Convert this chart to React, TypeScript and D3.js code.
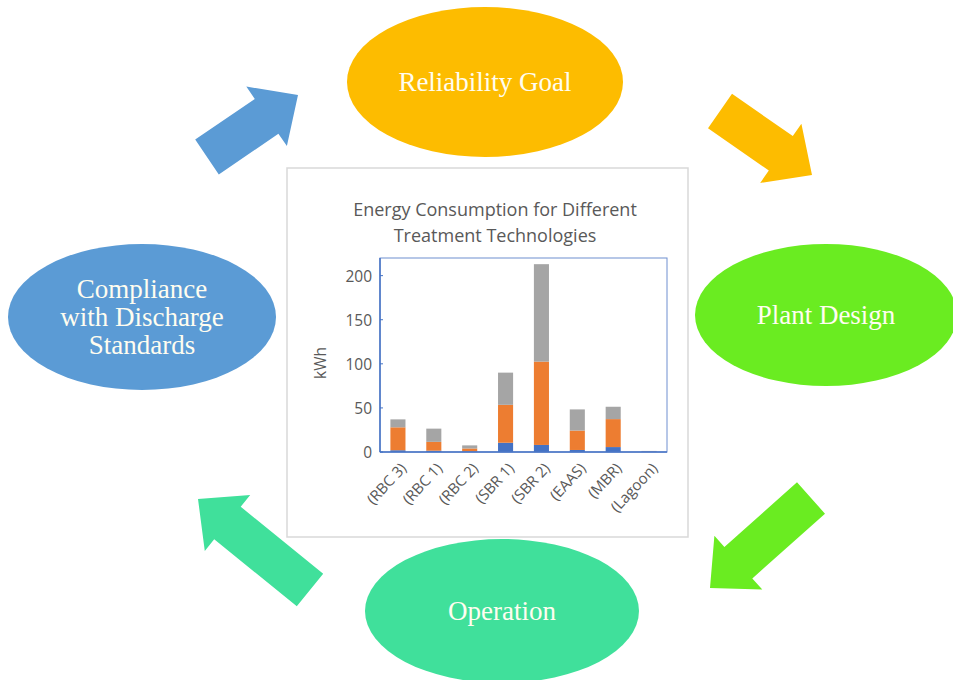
import React from "react";
import * as d3 from "d3";

const categories = ["(RBC 3)", "(RBC 1)", "(RBC 2)", "(SBR 1)", "(SBR 2)", "(EAAS)", "(MBR)", "(Lagoon)"];
const seriesA = [2, 1.5, 0.5, 10.5, 8, 2.3, 5.6, 0.3];
const seriesB = [26, 10, 3.5, 43, 94.5, 22, 31.7, 0.4];
const seriesC = [9, 15, 3.5, 36.5, 110.5, 24, 14, 0.5];
const yTicks = [0, 50, 100, 150, 200];
const titleLines = ["Energy Consumption for Different", "Treatment Technologies"];
const yLabel = "kWh";

const cycleNodes = [
  { lines: ["Reliability Goal"], cx: 485, cy: 82, rx: 138, ry: 75, fill: "#FDBC00" },
  { lines: ["Plant Design"], cx: 826, cy: 315, rx: 131, ry: 71, fill: "#6AEC21" },
  { lines: ["Operation"], cx: 502, cy: 611, rx: 137, ry: 72, fill: "#40E09B" },
  { lines: ["Compliance", "with Discharge", "Standards"], cx: 142, cy: 317, rx: 134, ry: 73, fill: "#5B9BD5" },
];

const arrows = [
  { tail: [207, 157], tip: [298, 95], fill: "#5B9BD5" },
  { tail: [720, 111], tip: [812, 175], fill: "#FDBC00" },
  { tail: [811, 498], tip: [710, 588], fill: "#6AEC21" },
  { tail: [310, 590], tip: [198, 499], fill: "#40E09B" },
];

function arrowPath(tail: number[], tip: number[], sw: number, hw: number, hl: number) {
  const dx = tip[0] - tail[0];
  const dy = tip[1] - tail[1];
  const L = Math.hypot(dx, dy);
  const ux = dx / L, uy = dy / L;
  const nx = -uy, ny = ux;
  const bx = tip[0] - ux * hl, by = tip[1] - uy * hl;
  const pts = [
    [tail[0] + nx * sw / 2, tail[1] + ny * sw / 2],
    [bx + nx * sw / 2, by + ny * sw / 2],
    [bx + nx * hw / 2, by + ny * hw / 2],
    [tip[0], tip[1]],
    [bx - nx * hw / 2, by - ny * hw / 2],
    [bx - nx * sw / 2, by - ny * sw / 2],
    [tail[0] - nx * sw / 2, tail[1] - ny * sw / 2],
  ];
  return "M" + pts.map((p) => p[0].toFixed(1) + "," + p[1].toFixed(1)).join("L") + "Z";
}

export default function App() {
  const W = 953, H = 680;
  const box = { x: 287, y: 168, w: 401, h: 369 };
  const plot = { l: 380, t: 258, r: 667, b: 452 };
  const x = d3.scaleBand<string>().domain(categories).range([plot.l, plot.r]).paddingInner(0.58).paddingOuter(0.29);
  const y = d3.scaleLinear().domain([0, 220]).range([plot.b, plot.t]);

  const rows = categories.map((c, i) => ({ cat: c, A: seriesA[i], B: seriesB[i], C: seriesC[i] }));
  const stacked = d3.stack<any>().keys(["A", "B", "C"])(rows);
  const colors = ["#4472C4", "#ED7D31", "#A5A5A5"];
  const font = "'Open Sans', Lato, sans-serif";
  const txt = "#595959";

  return (
    <svg width={W} height={H} style={{ position: "absolute", left: 0, top: 0, background: "#fff" }}>
      {arrows.map((a, i) => (
        <path key={i} d={arrowPath(a.tail, a.tip, 42, 72, 38)} fill={a.fill} />
      ))}
      {cycleNodes.map((n, i) => (
        <g key={i}>
          <ellipse cx={n.cx} cy={n.cy} rx={n.rx} ry={n.ry} fill={n.fill} />
          {n.lines.map((ln, j) => (
            <text
              key={j}
              x={n.cx}
              y={n.cy + (j - (n.lines.length - 1) / 2) * 28}
              textAnchor="middle"
              dominantBaseline="central"
              fontFamily="'Liberation Serif', 'Times New Roman', serif"
              fontSize={27}
              fill="#FFFDF0"
            >
              {ln}
            </text>
          ))}
        </g>
      ))}
      <rect x={box.x} y={box.y} width={box.w} height={box.h} fill="#fff" stroke="#D9D9D9" strokeWidth={1.5} />
      {titleLines.map((t, i) => (
        <text key={i} x={495} y={216 + i * 26} textAnchor="middle" fontFamily={font} fontSize={18} fill={txt}>
          {t}
        </text>
      ))}
      {stacked.map((s, si) => (
        <g key={si} fill={colors[si]}>
          {s.map((d: any, i: number) => (
            <rect
              key={i}
              x={x(categories[i])}
              y={y(d[1])}
              width={x.bandwidth()}
              height={Math.max(0, y(d[0]) - y(d[1]))}
            />
          ))}
        </g>
      ))}
      <rect x={plot.l} y={plot.t} width={plot.r - plot.l} height={plot.b - plot.t} fill="none" stroke="#6F8FD0" strokeWidth={1} />
      <line x1={plot.l} x2={plot.l} y1={plot.t} y2={plot.b} stroke="#4472C4" strokeWidth={1.5} />
      <line x1={plot.l} x2={plot.r} y1={plot.b} y2={plot.b} stroke="#4472C4" strokeWidth={1.5} />
      {yTicks.map((t) => (
        <g key={t}>
          <line x1={plot.l} x2={plot.l + 3} y1={y(t)} y2={y(t)} stroke="#4472C4" strokeWidth={1} />
          <text x={372} y={y(t)} textAnchor="end" dominantBaseline="central" fontFamily={font} fontSize={15.5} fill={txt}>
            {t}
          </text>
        </g>
      ))}
      <text
        transform={`translate(320,${(plot.t + plot.b) / 2 + 8}) rotate(-90)`}
        textAnchor="middle"
        dominantBaseline="central"
        fontFamily={font}
        fontSize={15.5}
        fill={txt}
      >
        {yLabel}
      </text>
      {categories.map((c) => {
        const cx = (x(c) as number) + x.bandwidth() / 2 + 5;
        return (
          <text
            key={c}
            transform={`translate(${cx},${plot.b + 13}) rotate(-47)`}
            textAnchor="end"
            dominantBaseline="central"
            fontFamily={font}
            fontSize={15}
            fill={txt}
          >
            {c}
          </text>
        );
      })}
    </svg>
  );
}
